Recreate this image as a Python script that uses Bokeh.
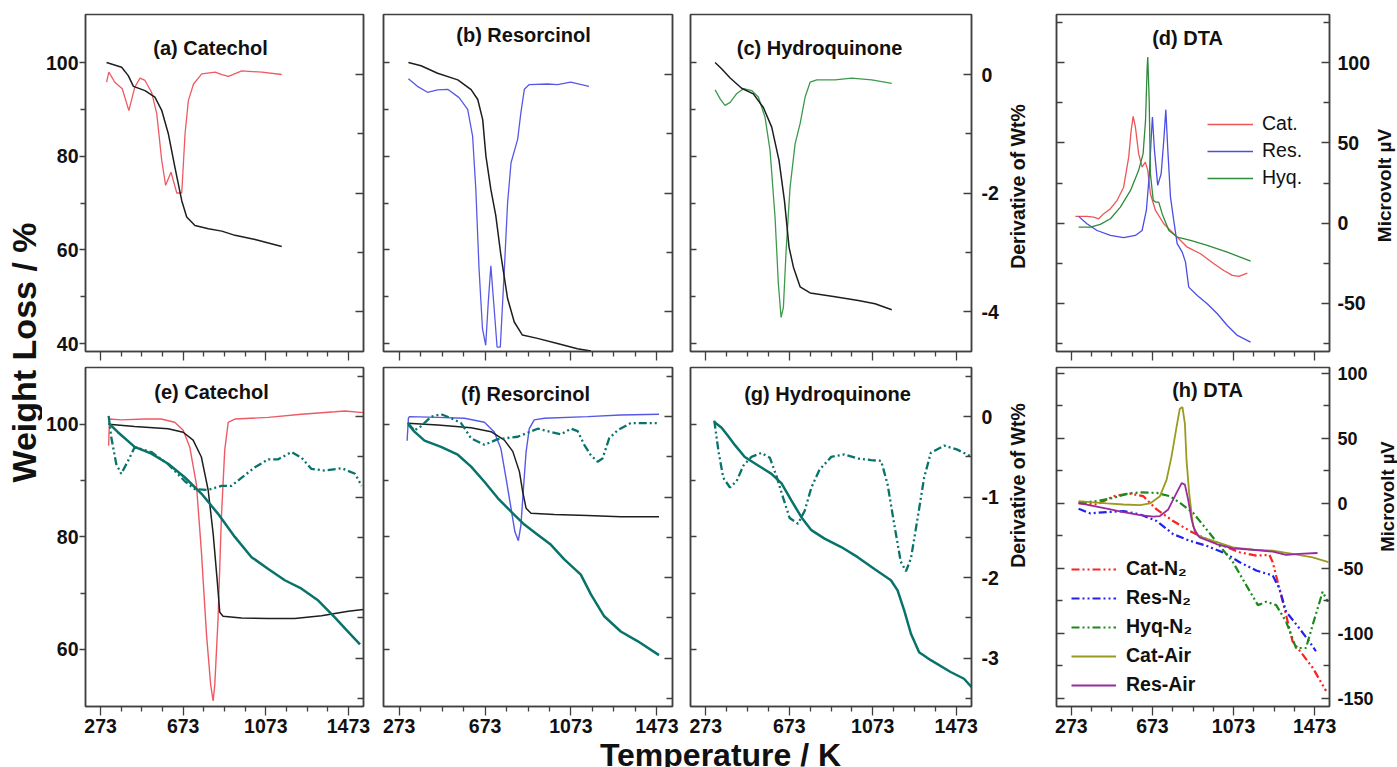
from math import pi
from bokeh.plotting import figure
from bokeh.models import Range1d, LinearAxis, FixedTicker, Label, Legend, LegendItem, CustomJSTickFormatter
from bokeh.layouts import row, column
from bokeh.embed import file_html
from bokeh.resources import INLINE

FONT = "Liberation Sans"
AXC = "#404040"
TXT = "#111111"

# ---------------- axes values ----------------
T_RANGE = (200, 1546)
T_MAJOR = [273, 673, 1073, 1473]
T_MINOR = [373, 473, 573, 773, 873, 973, 1173, 1273, 1373]

W1_RANGE = (38.3, 110.25)
W1_MAJOR = [40, 60, 80, 100]
W1_MINOR = [50, 70, 90]
D1_RANGE = (-4.675, 1.013)
D1_MAJOR = [-4, -2, 0]
D1_MINOR = [-3, -1]

W2_RANGE = (49.87, 110.1)
W2_MAJOR = [60, 80, 100]
W2_MINOR = [70, 90]
D2_RANGE = (-3.6, 0.61)
D2_MAJOR = [-3, -2, -1, 0]
D2_MINOR = [-3.5, -2.5, -1.5, -0.5, 0.5]

MV1_RANGE = (-80, 130)
MV1_MAJOR = [-50, 0, 50, 100]
MV1_MINOR = [-75, -25, 25, 75, 125]
MV2_RANGE = (-156.2, 104.6)
MV2_MAJOR = [-150, -100, -50, 0, 50, 100]
MV2_MINOR = [-125, -75, -25, 25, 75]

# ---------------- (a) Catechol ----------------
A_T_TG = [302, 375, 407, 432, 488, 536, 569, 601, 633, 666, 690, 730, 795, 860, 924, 1021, 1150]
A_TG = [100, 99.0, 97.2, 94.9, 94.0, 92.6, 89.8, 84.8, 77.6, 70.5, 67.0, 65.2, 64.5, 64.0, 63.1, 62.2, 60.7]
A_T_DTG = [302, 313, 342, 378, 410, 439, 464, 488, 520, 545, 569, 588, 614, 642, 666, 682, 698, 723, 763,
           828, 860, 892, 957, 1054, 1150]
A_DTG = [-0.13, 0.04, -0.13, -0.24, -0.61, -0.21, -0.06, -0.10, -0.30, -0.66, -1.45, -1.87, -1.65, -2.0, -2.0,
         -1.0, -0.44, -0.16, 0.01, 0.04, 0.0, -0.03, 0.06, 0.04, 0.0]

# ---------------- (b) Resorcinol ----------------
B_T_TG = [316, 375, 452, 546, 608, 639, 662, 677, 700, 723, 747, 778, 809, 847, 917, 1010, 1103, 1166]
B_TG = [100, 99.3, 97.7, 96.3, 94.2, 92.1, 87.8, 80.0, 72.9, 67.3, 58.8, 49.6, 44.6, 41.8, 41.1, 40.0, 38.9, 38.4]
B_T_DTG = [316, 358, 405, 452, 499, 552, 592, 615, 630, 645, 661, 676, 688, 700, 713, 729, 744, 763, 778, 794,
           825, 840, 856, 879, 964, 1010, 1072, 1157]
B_DTG = [-0.07, -0.2, -0.3, -0.26, -0.25, -0.39, -0.59, -1.04, -1.94, -3.28, -4.29, -4.57, -3.84, -3.23, -3.84,
         -4.6, -4.6, -3.28, -2.16, -1.49, -1.09, -0.64, -0.25, -0.17, -0.16, -0.17, -0.13, -0.2]

# ---------------- (c) Hydroquinone ----------------
C_T_TG = [318, 350, 390, 445, 501, 549, 589, 624, 650, 672, 693, 725, 773, 877, 1004, 1084, 1164]
C_TG = [100, 98.6, 96.7, 94.5, 93.3, 90.4, 86.2, 79.1, 70.5, 60.6, 56.3, 52.1, 50.8, 50.1, 49.2, 48.5, 47.2]
C_T_DTG = [318, 342, 365, 390, 422, 454, 493, 525, 557, 581, 605, 621, 634, 645, 658, 677, 701, 725, 749, 773,
           805, 892, 972, 1068, 1164]
C_DTG = [-0.26, -0.41, -0.52, -0.47, -0.32, -0.24, -0.27, -0.38, -0.72, -1.28, -2.41, -3.54, -4.1, -3.93, -2.97,
         -1.9, -1.17, -0.83, -0.38, -0.13, -0.09, -0.09, -0.06, -0.09, -0.15]

# ---------------- (d) DTA ----------------
D_T_CAT = [293, 350, 383, 408, 433, 466, 499, 531, 556, 568, 578, 589, 605, 622, 638, 650, 663, 688, 729, 778,
           845, 910, 976, 1025, 1067, 1099, 1141]
D_CAT = [4.2, 4.2, 3.7, 2.7, 5.9, 9.0, 14.2, 22.4, 41.1, 57.8, 66.5, 59.9, 43.3, 34.9, 38.0, 32.9, 18.3, 7.9,
         -0.4, -6.6, -15.0, -19.1, -25.3, -29.5, -32.6, -33.2, -31.2]
D_T_RES = [309, 350, 400, 466, 531, 589, 622, 643, 658, 668, 673, 683, 699, 716, 729, 739, 749, 762, 778, 795,
           820, 836, 852, 894, 943, 993, 1042, 1092, 1157]
D_RES = [4.2, -0.4, -4.6, -7.7, -9.1, -7.7, -4.6, 7.9, 30.8, 55.7, 66.1, 45.3, 23.5, 30.8, 51.6, 70.7, 45.3,
         16.2, 1.7, -12.8, -18.1, -24.3, -39.9, -45.1, -50.2, -56.5, -63.8, -70.0, -74.2]
D_T_HYQ = [309, 367, 416, 466, 515, 565, 605, 627, 639, 647, 650, 657, 663, 677, 688, 704, 721, 754, 795, 861,
           943, 1042, 1157]
D_HYQ = [-2.5, -2.5, -0.8, 2.7, 10.0, 20.4, 32.9, 43.3, 64.0, 97.3, 103.5, 76.5, 30.8, 14.2, 13.1, 13.1, 5.9,
         -4.6, -8.7, -10.8, -13.9, -18.1, -23.7]

# ---------------- (e) Catechol ----------------
E_T_TG = [312, 438, 600, 673, 721, 761, 794, 818, 839, 850, 866, 955, 1084, 1213, 1343, 1472, 1545]
E_TG = [100, 99.6, 99.2, 98.6, 97.2, 94.2, 88.3, 80.6, 71.7, 66.6, 65.9, 65.6, 65.5, 65.5, 66.0, 66.8, 67.1]
E_T_TGA = [312, 357, 438, 519, 600, 680, 761, 842, 923, 1004, 1085, 1165, 1246, 1327, 1407, 1473, 1529]
E_TGA = [100.2, 98.6, 96.0, 94.8, 93.0, 90.6, 87.7, 84.1, 80.0, 76.4, 74.3, 72.3, 70.8, 68.7, 65.7, 63.1, 60.9]
E_T_DTG = [312, 316, 373, 486, 566, 632, 673, 705, 737, 761, 786, 806, 818, 826, 842, 858, 874, 891, 923, 1085,
           1246, 1407, 1456, 1545]
E_DTG = [-0.36, -0.03, -0.04, -0.03, -0.03, -0.07, -0.17, -0.38, -0.84, -1.67, -2.71, -3.33, -3.53, -3.33,
         -2.5, -1.25, -0.42, -0.07, -0.03, -0.01, 0.03, 0.06, 0.07, 0.05]
E_T_DTGA = [312, 325, 349, 373, 406, 438, 519, 600, 680, 729, 794, 858, 907, 955, 1020, 1085, 1133, 1198, 1246,
            1294, 1359, 1440, 1505, 1537]
E_DTGA = [0.01, -0.26, -0.59, -0.71, -0.55, -0.38, -0.44, -0.59, -0.8, -0.9, -0.91, -0.86, -0.86, -0.76, -0.63,
          -0.53, -0.53, -0.44, -0.51, -0.65, -0.67, -0.64, -0.71, -0.86]

# ---------------- (f) Resorcinol ----------------
F_T_TG = [313, 453, 608, 701, 763, 802, 833, 848, 864, 887, 995, 1150, 1305, 1483]
F_TG = [100.2, 99.9, 99.4, 98.7, 97.2, 95.2, 91.6, 88.1, 85.1, 84.2, 84.0, 83.8, 83.6, 83.6]
F_T_TGA = [316, 344, 391, 468, 546, 608, 670, 732, 794, 856, 918, 980, 1042, 1119, 1166, 1228, 1305, 1383, 1483]
F_TGA = [100, 98.7, 97.1, 96.0, 94.6, 92.5, 89.8, 86.9, 84.5, 82.2, 80.4, 78.6, 76.0, 73.3, 69.8, 65.9, 63.2,
         61.5, 59.0]
F_T_DTG = [310, 316, 321, 453, 577, 670, 716, 747, 771, 794, 812, 828, 840, 853, 864, 879, 902, 949, 1150, 1305,
           1483]
F_DTG = [-0.30, -0.02, 0.0, -0.01, -0.02, -0.07, -0.19, -0.4, -0.77, -1.14, -1.43, -1.54, -1.35, -0.85, -0.44,
         -0.15, -0.04, -0.02, 0.0, 0.02, 0.03]
F_T_DTGA = [313, 344, 375, 422, 468, 515, 561, 608, 670, 732, 825, 918, 980, 1026, 1073, 1104, 1135, 1166, 1197,
            1220, 1251, 1290, 1352, 1414, 1483]
F_DTGA = [-0.08, -0.17, -0.12, 0.0, 0.03, -0.02, -0.08, -0.27, -0.35, -0.28, -0.25, -0.15, -0.19, -0.22, -0.15,
          -0.18, -0.35, -0.48, -0.56, -0.52, -0.27, -0.17, -0.08, -0.08, -0.08]

# ---------------- (g) Hydroquinone ----------------
G_T_TGA = [314, 349, 381, 413, 460, 524, 588, 636, 683, 731, 779, 842, 922, 1001, 1081, 1160, 1192, 1224, 1256,
           1295, 1351, 1446, 1510, 1547]
G_TGA = [100.4, 99.4, 97.9, 96.3, 94.2, 92.7, 91.2, 89.5, 86.5, 83.5, 81.2, 79.7, 78.2, 76.4, 74.3, 72.3, 70.5,
         66.9, 62.8, 59.5, 58.1, 56.0, 54.8, 53.3]
G_T_DTGA = [314, 334, 357, 389, 421, 453, 492, 540, 580, 612, 644, 675, 715, 747, 779, 818, 874, 937, 1001, 1065,
            1113, 1144, 1176, 1207, 1232, 1256, 1288, 1319, 1351, 1415, 1478, 1548]
G_DTGA = [-0.05, -0.43, -0.76, -0.88, -0.8, -0.61, -0.5, -0.45, -0.51, -0.74, -1.01, -1.26, -1.33, -1.17, -0.88,
          -0.66, -0.5, -0.47, -0.52, -0.54, -0.55, -0.84, -1.34, -1.8, -1.92, -1.76, -1.26, -0.76, -0.45, -0.36,
          -0.41, -0.5]

# ---------------- (h) DTA ----------------
H_T_CATAIR = [309, 366, 448, 530, 612, 661, 710, 743, 767, 792, 808, 821, 833, 841, 854, 873, 898, 972, 1070,
              1168, 1266, 1364, 1463, 1541]
H_CATAIR = [1.8, 1.0, 0, -0.8, -1.3, 0, 5.6, 18.3, 36, 58.9, 72.9, 74.1, 61.5, 33.5, 8.1, -17.3, -24.9, -28.7,
            -33.7, -35.6, -36.3, -38.8, -41.4, -45.2]
H_T_RESAIR = [309, 366, 448, 530, 612, 677, 710, 751, 792, 817, 833, 849, 866, 882, 906, 988, 1070, 1168, 1266,
              1332, 1397, 1487]
H_RESAIR = [0.5, -1.5, -4, -6.6, -8.9, -10.1, -9.7, -4.6, 8.1, 15.7, 14.5, 3, -12.2, -21.1, -26.1, -31.2, -34.5,
            -35.6, -37.1, -39.6, -38.8, -38.1]
H_T_CATN2 = [309, 399, 481, 563, 628, 694, 775, 857, 939, 1021, 1103, 1185, 1250, 1266, 1299, 1332, 1364, 1414,
             1463, 1529]
H_CATN2 = [0, -0.8, 5.6, 7.6, 5.6, -4.6, -13.5, -21.1, -27.4, -32.5, -37.5, -40.1, -39.6, -45.2, -65.5, -85.8,
           -106.1, -116.3, -126.4, -144.2]
H_T_RESN2 = [309, 366, 448, 530, 612, 694, 775, 857, 939, 1037, 1103, 1185, 1266, 1299, 1332, 1397, 1446, 1479]
H_RESN2 = [-4, -7.6, -6.6, -5.9, -8.4, -13.5, -23.6, -28.7, -32.5, -38.8, -45.2, -51.6, -55.4, -65.5, -83.2, -96,
           -106.1, -113.7]
H_T_HYQN2 = [309, 399, 481, 546, 612, 694, 759, 808, 873, 939, 1004, 1070, 1136, 1193, 1234, 1283, 1332, 1381,
             1430, 1463, 1512, 1538]
H_HYQN2 = [0.5, 1.8, 4.3, 7.4, 8.6, 8.1, 5.6, 0.5, -7.1, -19.8, -32.5, -45.2, -63, -78.2, -75.6, -78.2, -90.9,
           -111.2, -111.2, -93.5, -68, -75.6]

TITLES = ["(a) Catechol", "(b) Resorcinol", "(c) Hydroquinone", "(d) DTA",
          "(e) Catechol", "(f) Resorcinol", "(g) Hydroquinone", "(h) DTA"]

# colours / styles
RED = "#ee5a64"
BLUE = "#5858e6"
GREEN = "#3c9a4c"
BLACK = "#1e1e1e"
TEAL = "#08736b"
D_RED, D_BLUE, D_GREEN = "#ee5555", "#4c4ce6", "#2e8b3c"
H_RED, H_BLUE, H_GREEN = "#ff2020", "#2222ee", "#1a8a1a"
OLIVE, PURPLE = "#9a9a1e", "#9a2aa0"
DDOT = "8 3 2 3 2 3"

# layout geometry (frame sizes and borders); figure sizes are fixed explicitly
LEFT_W = 42
COL_W = [278, 289, 281, 273]
COL_BL = [43, 10, 9, 5]
COL_BR = [[10, 9, 32, 44], [10, 9, 32, 47]]
ROW_H = [337, 339]
ROW_BT = [14, 4]
ROW_BB = [12, 35]
ROW_TOT = [ROW_BT[i] + ROW_H[i] + ROW_BB[i] for i in range(2)]
SIDE_C_W = 48


def make_fig(ci, ri, y_rng):
    p = figure(width=COL_BL[ci] + COL_W[ci] + COL_BR[ri][ci], height=ROW_TOT[ri],
               x_range=Range1d(*T_RANGE), y_range=Range1d(*y_rng),
               min_border_left=COL_BL[ci], min_border_right=COL_BR[ri][ci],
               min_border_top=ROW_BT[ri], min_border_bottom=ROW_BB[ri],
               output_backend="svg", toolbar_location=None,
               background_fill_color="white", border_fill_color="white")
    p.xgrid.visible = False
    p.ygrid.visible = False
    p.outline_line_color = AXC
    p.outline_line_width = 1.5
    return p


def style(ax, major, minor, inward, labels, standoff=3, tlen=8, mlen=5, size="19.5px"):
    ax.ticker = FixedTicker(ticks=major, minor_ticks=minor)
    ax.axis_line_color = AXC
    ax.axis_line_width = 1.5
    ax.major_tick_line_color = AXC
    ax.minor_tick_line_color = AXC
    ax.major_tick_line_width = 1.3
    ax.minor_tick_line_width = 1.3
    if inward:
        ax.major_tick_in, ax.major_tick_out = tlen, 0
        ax.minor_tick_in, ax.minor_tick_out = mlen, 0
    else:
        ax.major_tick_in, ax.major_tick_out = 0, tlen
        ax.minor_tick_in, ax.minor_tick_out = 0, mlen
    if labels:
        ax.formatter = CustomJSTickFormatter(code="return String(tick)")
        ax.major_label_text_font = FONT
        ax.major_label_text_font_style = "bold"
        ax.major_label_text_font_size = size
        ax.major_label_text_color = TXT
        ax.major_label_standoff = standoff
    else:
        ax.major_label_text_color = None
        ax.major_label_standoff = 0
    ax.axis_label = None


def add_title(p, text, cx, cy):
    p.add_layout(Label(x=cx, y=cy, x_units="screen", y_units="screen", text=text,
                       text_font=FONT, text_font_style="bold", text_font_size="20px",
                       text_color=TXT, text_align="center", text_baseline="middle"))


def text_fig(w, h, text, x, y, size, angle=0.0):
    f = figure(width=w, height=h, min_border=0, x_range=Range1d(0, 1), y_range=Range1d(0, 1),
               x_axis_location=None, y_axis_location=None, output_backend="svg", toolbar_location=None,
               background_fill_color="white", border_fill_color="white")
    f.grid.visible = False
    f.outline_line_color = None
    f.add_layout(Label(x=x, y=y, x_units="screen", y_units="screen", text=text, angle=angle,
                       text_font=FONT, text_font_style="bold", text_font_size=size,
                       text_color=TXT, text_align="center", text_baseline="middle"))
    return f


def tg_panel(ci, ri):
    wr, wmaj, wmin = (W1_RANGE, W1_MAJOR, W1_MINOR) if ri == 0 else (W2_RANGE, W2_MAJOR, W2_MINOR)
    dr, dmaj, dmin = (D1_RANGE, D1_MAJOR, D1_MINOR) if ri == 0 else (D2_RANGE, D2_MAJOR, D2_MINOR)
    p = make_fig(ci, ri, wr)
    p.extra_y_ranges = {"d": Range1d(*dr)}
    style(p.below[0], T_MAJOR, T_MINOR, inward=False, labels=(ri == 1), standoff=3, tlen=9, mlen=5)
    style(p.left[0], wmaj, wmin, inward=(ci != 0), labels=(ci == 0), standoff=1, tlen=6, mlen=5)
    rax = LinearAxis(y_range_name="d")
    style(rax, dmaj, dmin, inward=True, labels=(ci == 2), standoff=10, tlen=8, mlen=6)
    p.add_layout(rax, "right")
    return p


def dta_panel(ri):
    rng, maj, mnr = (MV1_RANGE, MV1_MAJOR, MV1_MINOR) if ri == 0 else (MV2_RANGE, MV2_MAJOR, MV2_MINOR)
    p = make_fig(3, ri, rng)
    style(p.below[0], T_MAJOR, T_MINOR, inward=False, labels=(ri == 1), standoff=3, tlen=9, mlen=5)
    style(p.left[0], maj, mnr, inward=True, labels=False, tlen=8, mlen=6)
    rax = LinearAxis()
    style(rax, maj, mnr, inward=True, labels=True, standoff=8, tlen=8, mlen=6,
          size=("19.5px" if ri == 0 else "18px"))
    p.add_layout(rax, "right")
    return p


def legend_style(lg, bold):
    for k, v in dict(glyph_height=20, label_height=20, padding=0, margin=0,
                     border_line_color=None, background_fill_alpha=0,
                     label_text_font=FONT, label_text_font_size="19.5px",
                     label_text_color=TXT).items():
        setattr(lg, k, v)
    if bold:
        lg.label_text_font_style = "bold"


# ---------- top row ----------
pa = tg_panel(0, 0)
pa.line(A_T_DTG, A_DTG, line_color=RED, line_width=1.3, y_range_name="d")
pa.line(A_T_TG, A_TG, line_color=BLACK, line_width=1.5)
add_title(pa, TITLES[0], 125, 304)

pb = tg_panel(1, 0)
pb.line(B_T_DTG, B_DTG, line_color=BLUE, line_width=1.3, y_range_name="d")
pb.line(B_T_TG, B_TG, line_color=BLACK, line_width=1.5)
add_title(pb, TITLES[1], 140, 317)

pc = tg_panel(2, 0)
pc.line(C_T_DTG, C_DTG, line_color=GREEN, line_width=1.3, y_range_name="d")
pc.line(C_T_TG, C_TG, line_color=BLACK, line_width=1.5)
add_title(pc, TITLES[2], 129, 304)

pd = dta_panel(0)
r_dc = pd.line(D_T_CAT, D_CAT, line_color=D_RED, line_width=1.3)
r_dr = pd.line(D_T_RES, D_RES, line_color=D_BLUE, line_width=1.3)
r_dh = pd.line(D_T_HYQ, D_HYQ, line_color=D_GREEN, line_width=1.3)
add_title(pd, TITLES[3], 131, 314)
lg_d = Legend(items=[LegendItem(label="Cat.", renderers=[r_dc]),
                     LegendItem(label="Res.", renderers=[r_dr]),
                     LegendItem(label="Hyq.", renderers=[r_dh])],
              location=(151, 162), glyph_width=46, label_standoff=9, spacing=4)
legend_style(lg_d, False)
pd.add_layout(lg_d)

used0 = LEFT_W + sum(COL_BL[i] + COL_W[i] + COL_BR[0][i] for i in range(4)) + SIDE_C_W
side_c = text_fig(SIDE_C_W, ROW_TOT[0], "Derivative of Wt%", 14, ROW_TOT[0] - 198, "19.5px", pi / 2)
side_d = text_fig(1397 - used0, ROW_TOT[0], "Microvolt µV", 1384 - used0, ROW_TOT[0] - 197, "19px", pi / 2)

# ---------- bottom row ----------
pe = tg_panel(0, 1)
pe.line(E_T_DTG, E_DTG, line_color=RED, line_width=1.4, y_range_name="d")
pe.line(E_T_TG, E_TG, line_color=BLACK, line_width=1.5)
pe.line(E_T_TGA, E_TGA, line_color=TEAL, line_width=2.5)
pe.line(E_T_DTGA, E_DTGA, line_color=TEAL, line_width=2.3, line_dash=DDOT, y_range_name="d")
add_title(pe, TITLES[4], 126, 315)

pf = tg_panel(1, 1)
pf.line(F_T_DTG, F_DTG, line_color=BLUE, line_width=1.4, y_range_name="d")
pf.line(F_T_TG, F_TG, line_color=BLACK, line_width=1.5)
pf.line(F_T_TGA, F_TGA, line_color=TEAL, line_width=2.5)
pf.line(F_T_DTGA, F_DTGA, line_color=TEAL, line_width=2.3, line_dash=DDOT, y_range_name="d")
add_title(pf, TITLES[5], 142, 313)

pg = tg_panel(2, 1)
pg.line(G_T_TGA, G_TGA, line_color=TEAL, line_width=2.5)
pg.line(G_T_DTGA, G_DTGA, line_color=TEAL, line_width=2.3, line_dash=DDOT, y_range_name="d")
add_title(pg, TITLES[6], 137, 313)

ph = dta_panel(1)
r_cn = ph.line(H_T_CATN2, H_CATN2, line_color=H_RED, line_width=2.2, line_dash=DDOT)
r_rn = ph.line(H_T_RESN2, H_RESN2, line_color=H_BLUE, line_width=2.2, line_dash=DDOT)
r_hn = ph.line(H_T_HYQN2, H_HYQN2, line_color=H_GREEN, line_width=2.2, line_dash=DDOT)
r_ca = ph.line(H_T_CATAIR, H_CATAIR, line_color=OLIVE, line_width=1.8)
r_ra = ph.line(H_T_RESAIR, H_RESAIR, line_color=PURPLE, line_width=1.8)
add_title(ph, TITLES[7], 151, 317)
lg_h = Legend(items=[LegendItem(label="Cat-N₂", renderers=[r_cn]),
                     LegendItem(label="Res-N₂", renderers=[r_rn]),
                     LegendItem(label="Hyq-N₂", renderers=[r_hn]),
                     LegendItem(label="Cat-Air", renderers=[r_ca]),
                     LegendItem(label="Res-Air", renderers=[r_ra])],
              location=(15, 10), glyph_width=45, label_standoff=10, spacing=6)
legend_style(lg_h, True)
ph.add_layout(lg_h)

used1 = LEFT_W + sum(COL_BL[i] + COL_W[i] + COL_BR[1][i] for i in range(4)) + SIDE_C_W
side_h_w = 1397 - used1
side_g = text_fig(SIDE_C_W, ROW_TOT[1], "Derivative of Wt%", 14, ROW_TOT[1] - (520 - ROW_TOT[0]),
                  "19.5px", pi / 2)
side_h = text_fig(side_h_w, ROW_TOT[1], "Microvolt µV", side_h_w / 2, ROW_TOT[1] - (531 - ROW_TOT[0]),
                  "18.5px", pi / 2)

# ---------- global labels ----------
grid_h = sum(ROW_TOT)
lf = text_fig(LEFT_W, grid_h, "Weight Loss / %", 23, grid_h - 352, "34px", pi / 2)
strip_h = 767 - grid_h
sf = text_fig(1397, strip_h, "Temperature / K", 720, strip_h - (754 - grid_h), "32px")

grid = column(row(pa, pb, pc, side_c, pd, side_d), row(pe, pf, pg, side_g, ph, side_h))
layout = column(row(lf, grid), sf)

open("out.html", "w").write(file_html(layout, INLINE))
